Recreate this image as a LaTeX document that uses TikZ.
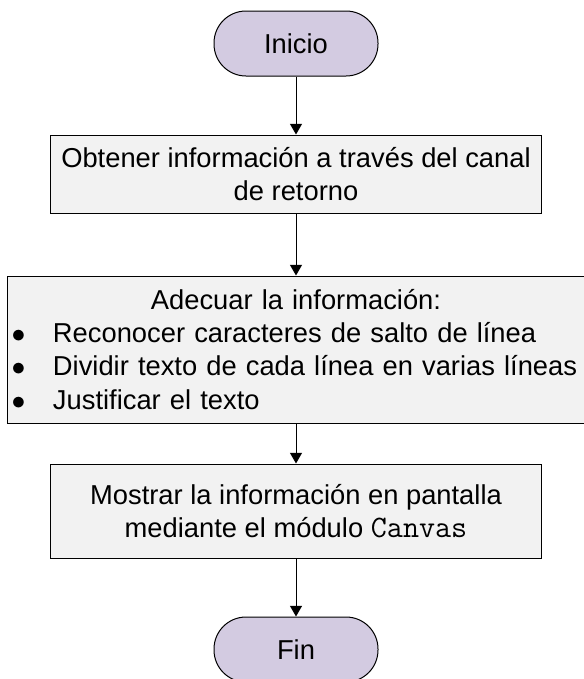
\documentclass[tikz,border=0pt]{standalone}
\usepackage{fontspec}
\setmainfont{Liberation Sans}
\usetikzlibrary{arrows.meta}
\setlength{\parindent}{0pt}

\begin{document}
\begin{tikzpicture}[x=0.75pt,y=0.75pt,yscale=-1,xscale=1,
  terminal/.style={draw={rgb, 255:red, 0; green, 0; blue, 0 }, fill={rgb, 255:red, 211; green, 203; blue, 225 }, line width=0.75pt, rounded corners=24pt, minimum width=123pt, minimum height=48.75pt, inner sep=0pt},
  process/.style={draw={rgb, 255:red, 0; green, 0; blue, 0 }, fill={rgb, 255:red, 242; green, 242; blue, 242 }, line width=0.75pt, inner sep=0pt},
  flow/.style={line width=0.75pt, -{Triangle[length=8pt,width=9pt]}},
  font=\fontsize{20.5pt}{24.8pt}\selectfont]
%set diagram to the size of the page
\useasboundingbox (0,0) rectangle (584,679);

%Shape: Terminal [id:inicio]
\node [terminal] (inicio) at (296,43.5) {Inicio};
%Shape: Rectangle [id:obtener]
\node [process, minimum width=368.25pt, minimum height=58.5pt, align=center] (obtener) at (296,174) {Obtener información a través del canal\\de retorno};
%Shape: Rectangle [id:adecuar]
\node [process, minimum width=433.5pt, minimum height=110.25pt, text width=433.5pt] (adecuar) at (296,349.5) {%
  {\centering Adecuar la información:\par}
  \hspace*{3.5pt}\makebox[31pt][l]{$\bullet$}Reconocer caracteres de salto de línea\par
  \hspace*{3.5pt}\makebox[31pt][l]{$\bullet$}Dividir texto de cada línea en varias líneas\par
  \hspace*{3.5pt}\makebox[31pt][l]{$\bullet$}Justificar el texto\par};
%Shape: Rectangle [id:mostrar]
\node [process, minimum width=368.25pt, minimum height=70.5pt, align=center] (mostrar) at (296,511) {Mostrar la información en pantalla\\mediante el módulo {\ttfamily\fontsize{23.4pt}{24.8pt}\selectfont Canvas}};
%Shape: Terminal [id:fin]
\node [terminal] (fin) at (296,649.5) {Fin};

%Straight Lines
\draw [flow] (inicio) -- (obtener);
\draw [flow] (obtener) -- (adecuar);
\draw [flow] (adecuar) -- (mostrar);
\draw [flow] (mostrar) -- (fin);

\end{tikzpicture}
\end{document}
